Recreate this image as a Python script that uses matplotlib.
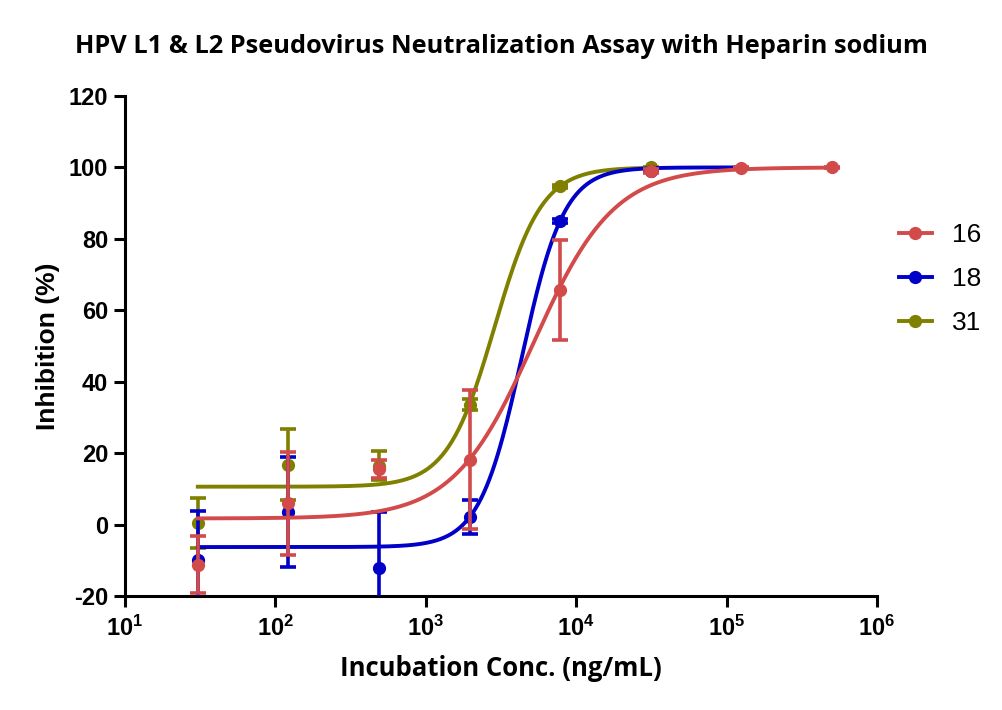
import matplotlib.pyplot as plt
import numpy as np

plt.rcParams['font.family'] = ['Liberation Sans', 'DejaVu Sans']
plt.rcParams['mathtext.fontset'] = 'custom'
plt.rcParams['mathtext.rm'] = 'Liberation Sans:bold'
plt.rcParams['mathtext.bf'] = 'Liberation Sans:bold'
plt.rcParams['axes.unicode_minus'] = False

# concentrations (ng/mL), 4-fold dilutions
conc_16 = [30.5, 122, 488, 1953, 7812.5, 31250, 125000, 500000]
conc_18 = [30.5, 122, 488, 1953, 7812.5, 31250]
conc_31 = [30.5, 122, 488, 1953, 7812.5, 31250]

mean_16 = [-11.2, 5.9, 15.5, 18.2, 65.8, 99.0, 99.8, 100.0]
sd_16 = [7.9, 14.5, 2.5, 19.5, 14.0, 0.5, 0.3, 0.2]
mean_18 = [-9.8, 3.5, -12.3, 2.1, 85.0, 99.0]
sd_18 = [13.6, 15.5, 15.9, 4.7, 0.5, 0.3]
mean_31 = [0.3, 16.8, 16.5, 33.6, 94.7, 100.0]
sd_31 = [7.0, 10.0, 4.0, 1.5, 0.5, 0.2]

# 4PL fit parameters: bottom, top, logEC50, hill
fit_16 = [1.7, 100.0, 3.716, 1.63]
fit_18 = [-6.3, 100.0, 3.638, 3.08]
fit_31 = [10.6, 100.0, 3.457, 2.76]
curve_end = {'16': 500000, '18': 125000, '31': 31250}

colors = {'16': '#D24A4A', '18': '#0000C8', '31': '#808000'}

def four_pl(x, p):
    b, t, lec, h = p
    return b + (t - b) / (1 + 10 ** ((lec - np.log10(x)) * h))

fig = plt.figure(figsize=(10.03, 7.10), dpi=100)
ax = fig.add_axes([0.1246, 0.1606, 0.7498, 0.7042])

series = [('31', conc_31, mean_31, sd_31, fit_31, 2),
          ('18', conc_18, mean_18, sd_18, fit_18, 3),
          ('16', conc_16, mean_16, sd_16, fit_16, 4)]
handles = {}
for name, c, m, s, p, z in series:
    col = colors[name]
    ax.errorbar(c, m, yerr=s, fmt='o', color=col, ms=8.5, elinewidth=2.6,
                capsize=5.5, capthick=2.6, zorder=z)
    xs = np.logspace(np.log10(c[0]), np.log10(curve_end[name]), 400)
    ax.plot(xs, four_pl(xs, p), color=col, lw=2.8, zorder=z)
    h, = ax.plot([], [], color=col, lw=2.8, marker='o', ms=8.5)
    handles[name] = h

ax.set_xscale('log')
ax.set_xlim(10, 1e6)
ax.set_ylim(-20, 120)
ax.set_yticks(range(-20, 121, 20))
ax.set_xticks([10 ** k for k in range(1, 7)])
ax.set_xticklabels([r'$\mathbf{10^{%d}}$' % k for k in range(1, 7)])
ax.xaxis.set_minor_locator(plt.NullLocator())
for sp in ['top', 'right']:
    ax.spines[sp].set_visible(False)
for sp in ['left', 'bottom']:
    ax.spines[sp].set_linewidth(2.2)
ax.tick_params(width=2.2, length=8, labelsize=17, pad=4)
for lab in ax.get_yticklabels():
    lab.set_fontweight('bold')
ax.tick_params(axis='x', labelsize=17, pad=6)

ax.set_ylabel('Inhibition (%)', fontsize=19, fontweight='bold', labelpad=6)
ax.set_xlabel('Incubation Conc. (ng/mL)', fontsize=18.5, fontweight='bold',
              family=['Open Sans', 'DejaVu Sans'], labelpad=10)
fig.suptitle('HPV L1 & L2 Pseudovirus Neutralization Assay with Heparin sodium',
             fontsize=18.3, fontweight='bold', family=['Open Sans', 'DejaVu Sans'],
             x=0.5, y=0.952)

ax.legend([handles['16'], handles['18'], handles['31']], ['16', '18', '31'],
          loc='center left', bbox_to_anchor=(0.997, 0.634), frameon=False,
          fontsize=19, handlelength=1.28, labelspacing=0.75, handletextpad=0.75)

fig.savefig('out.png', dpi=100)
